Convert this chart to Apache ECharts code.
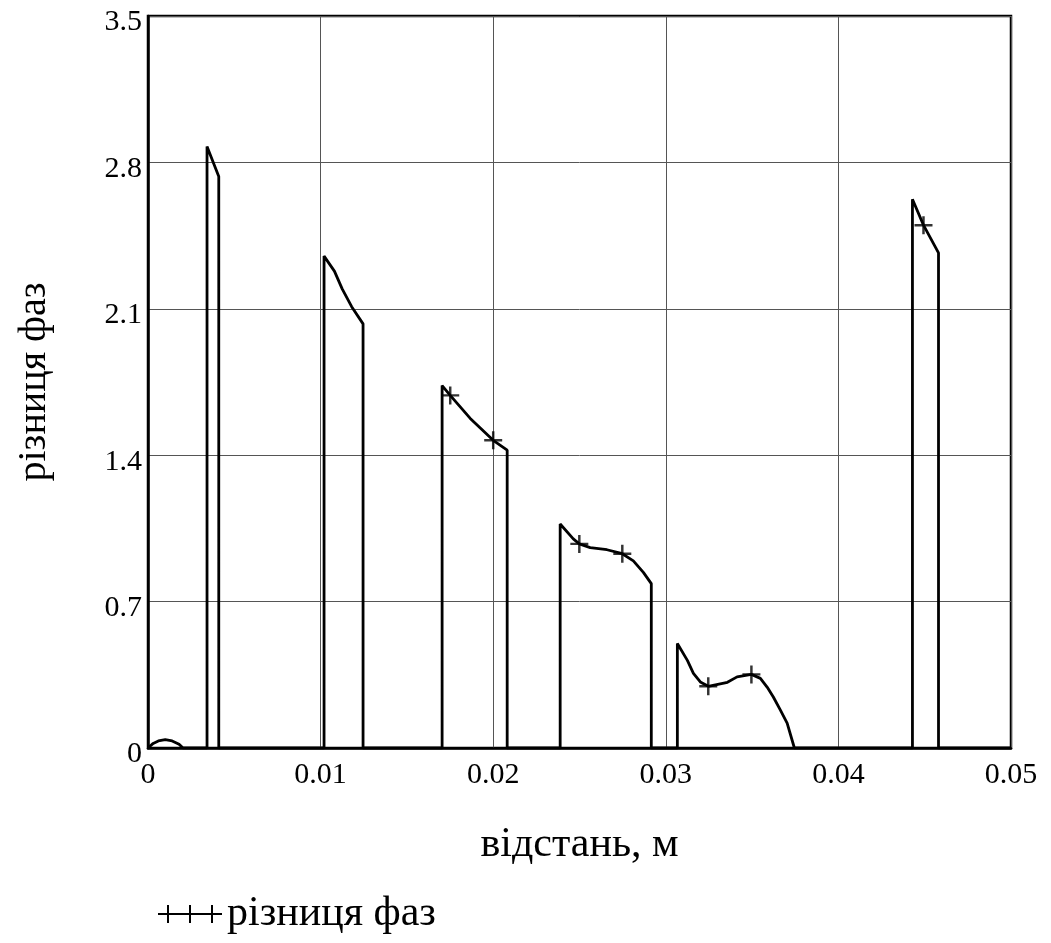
<!DOCTYPE html>
<html>
<head>
<meta charset="utf-8">
<script src="https://cdn.jsdelivr.net/npm/echarts@6/dist/echarts.min.js"></script>
<style>
  html, body { margin: 0; padding: 0; background: #fff; }
  #chart { width: 1051px; height: 943px; }
</style>
</head>
<body>
<div id="chart"></div>
<script>
// phase difference trace: [distance, phase]
const phaseCurve = [
  [0, 0], [0.0003, 0.022], [0.0006, 0.034], [0.001, 0.04], [0.0014, 0.034], [0.0018, 0.018], [0.00203, 0],
  [0.00342, 0], [0.00342, 2.876], [0.0041, 2.733], [0.0041, 0],
  [0.0102, 0], [0.0102, 2.352], [0.0108, 2.28], [0.01125, 2.195], [0.0118, 2.11], [0.01246, 2.028], [0.01246, 0],
  [0.01704, 0], [0.01704, 1.733], [0.01751, 1.686], [0.01867, 1.576], [0.02, 1.471], [0.02081, 1.424], [0.02081, 0],
  [0.02388, 0], [0.02388, 1.071], [0.02464, 1.0], [0.02499, 0.976], [0.02562, 0.958], [0.02659, 0.948],
  [0.02748, 0.929], [0.02812, 0.895], [0.0287, 0.84], [0.02916, 0.786], [0.02916, 0],
  [0.03067, 0], [0.03067, 0.5], [0.03125, 0.419], [0.0316, 0.357], [0.032, 0.316], [0.03246, 0.295],
  [0.03357, 0.314], [0.03413, 0.34], [0.03496, 0.352], [0.03548, 0.333], [0.03588, 0.29],
  [0.03623, 0.244], [0.03664, 0.181], [0.03703, 0.119], [0.03745, 0],
  [0.04429, 0], [0.04429, 2.624], [0.04493, 2.5], [0.0458, 2.367], [0.0458, 0],
  [0.05, 0]
];

// "+" markers along the trace
const phaseMarks = [
  [0.01751, 1.686], [0.02, 1.471],
  [0.02499, 0.976], [0.02748, 0.929],
  [0.03246, 0.295], [0.03496, 0.352],
  [0.04493, 2.5]
];

const xTicks = [0, 0.01, 0.02, 0.03, 0.04, 0.05];
const yTicks = [0, 0.7, 1.4, 2.1, 2.8, 3.5];

const seriesName = 'різниця фаз';
const xTitle = 'відстань, м';
const yTitle = 'різниця фаз';

const font = 'Liberation Serif';
const plusPath = 'path://M0,6.9H16V9.1H0Z M6.9,0H9.1V16H6.9Z';
const legendPath = 'path://M0,8H64V10H0Z M9,0H11V18H9Z M31,0H33V18H31Z M53,0H55V18H53Z';

const chart = echarts.init(document.getElementById('chart'));

const option = {
  animation: false,
  backgroundColor: '#fff',
  grid: {
    left: 148, right: 40, top: 16, bottom: 195,
    show: true, borderColor: '#000', borderWidth: 2.5
  },
  legend: {
    data: [{ name: seriesName, icon: legendPath }],
    left: 153, top: 888,
    itemWidth: 64, itemHeight: 18, itemGap: 8,
    textStyle: { fontFamily: font, fontSize: 42, color: '#000' }
  },
  xAxis: {
    type: 'value',
    min: xTicks[0], max: xTicks[xTicks.length - 1], interval: 0.01,
    name: xTitle, nameLocation: 'middle', nameGap: 76,
    nameTextStyle: { fontFamily: font, fontSize: 42, color: '#000' },
    axisLine: { show: true, lineStyle: { color: '#000', width: 2.5 } },
    axisTick: { show: false },
    axisLabel: {
      fontFamily: font, fontSize: 30, color: '#000', margin: 12,
      formatter: v => String(parseFloat(v.toFixed(3)))
    },
    splitLine: { show: true, lineStyle: { color: '#555', width: 1 } }
  },
  yAxis: {
    type: 'value',
    min: yTicks[0], max: yTicks[yTicks.length - 1], interval: 0.7,
    name: yTitle, nameLocation: 'middle', nameGap: 94, nameRotate: 90,
    nameTextStyle: { fontFamily: font, fontSize: 40, color: '#000' },
    axisLine: { show: true, lineStyle: { color: '#000', width: 2.5 } },
    axisTick: { show: false },
    axisLabel: {
      color: '#000', margin: 6,
      formatter: v => '{t|' + parseFloat(v.toFixed(2)) + '}',
      rich: { t: { fontFamily: font, fontSize: 30, color: '#000', padding: [13, 0, 0, 0] } }
    },
    splitLine: { show: true, lineStyle: { color: '#555', width: 1 } }
  },
  series: [
    {
      name: seriesName,
      type: 'line',
      data: phaseCurve,
      showSymbol: false,
      lineStyle: { color: '#000', width: 2.8 },
      itemStyle: { color: '#000' },
      z: 3
    },
    {
      name: 'marks',
      type: 'scatter',
      data: phaseMarks,
      symbol: plusPath,
      symbolSize: 18,
      itemStyle: { color: '#000' },
      z: 4
    }
  ]
};

chart.setOption(option);
</script>
</body>
</html>
